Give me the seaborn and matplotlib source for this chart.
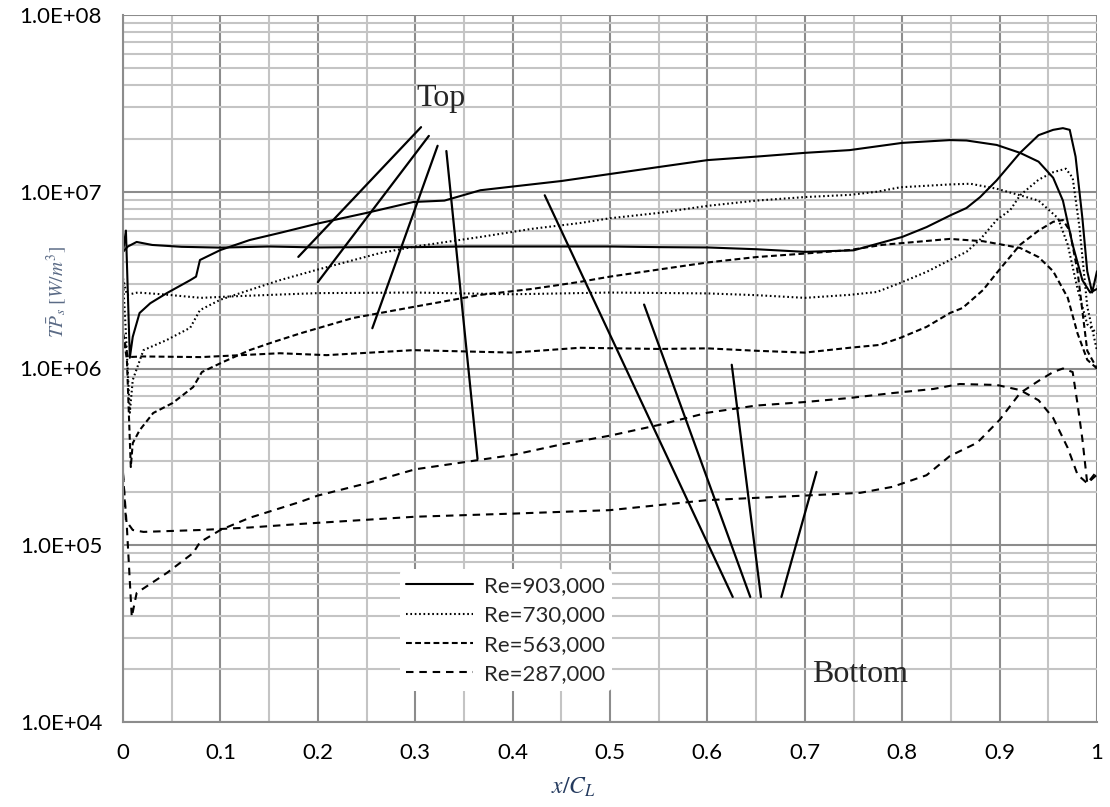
import matplotlib
matplotlib.use("Agg")
import matplotlib.pyplot as plt
import numpy as np
import pandas as pd
import seaborn as sns
from matplotlib.lines import Line2D
from matplotlib.ticker import FuncFormatter, MultipleLocator, LogLocator, NullFormatter

# ---------------- data ----------------
re_labels = ["Re=903,000", "Re=730,000", "Re=563,000", "Re=287,000"]

# Re=903,000 -- top surface (flat, trailing-edge peak)
x_903_top = [0, 0.005, 0.014, 0.03, 0.06, 0.1, 0.15, 0.2, 0.25, 0.3, 0.35, 0.4, 0.45, 0.5, 0.55, 0.6,
             0.65, 0.7, 0.75, 0.8, 0.825, 0.85, 0.866, 0.88, 0.897, 0.921, 0.94, 0.955, 0.965, 0.972,
             0.978, 0.985, 0.99, 0.995, 1.0]
v_903_top = [4.57e6, 4.9e6, 5.2e6, 5.0e6, 4.88e6, 4.83e6, 4.9e6, 4.84e6, 4.86e6, 4.86e6, 4.9e6, 4.9e6,
             4.9e6, 4.9e6, 4.86e6, 4.84e6, 4.73e6, 4.57e6, 4.66e6, 5.55e6, 6.31e6, 7.38e6, 8.09e6,
             9.33e6, 1.16e7, 1.66e7, 2.09e7, 2.24e7, 2.29e7, 2.24e7, 1.58e7, 7.08e6, 3.55e6, 2.69e6, 3.55e6]
# Re=903,000 -- bottom surface (rising)
x_903_bot = [0, 0.003, 0.007, 0.01, 0.017, 0.028, 0.045, 0.069, 0.075, 0.079, 0.1, 0.13, 0.161, 0.2,
             0.25, 0.298, 0.33, 0.367, 0.4, 0.45, 0.5, 0.55, 0.6, 0.65, 0.7, 0.746, 0.8, 0.849, 0.866,
             0.897, 0.921, 0.94, 0.955, 0.965, 0.975, 0.985, 0.993, 1.0]
v_903_bot = [4.57e6, 6.03e6, 1.15e6, 1.51e6, 2.06e6, 2.34e6, 2.67e6, 3.16e6, 3.31e6, 4.11e6, 4.68e6,
             5.33e6, 5.85e6, 6.61e6, 7.59e6, 8.75e6, 8.91e6, 1.02e7, 1.07e7, 1.15e7, 1.26e7, 1.38e7,
             1.51e7, 1.58e7, 1.66e7, 1.72e7, 1.89e7, 1.96e7, 1.95e7, 1.84e7, 1.66e7, 1.48e7, 1.2e7,
             8.91e6, 5.01e6, 3.16e6, 2.69e6, 2.82e6]

# Re=730,000
x_730_top = [0, 0.004, 0.015, 0.04, 0.08, 0.12, 0.2, 0.3, 0.4, 0.5, 0.6, 0.65, 0.7, 0.746, 0.774, 0.798,
             0.825, 0.849, 0.866, 0.88, 0.897, 0.911, 0.921, 0.94, 0.955, 0.968, 0.975, 0.982, 0.99, 1.0]
v_730_top = [3.24e6, 2.61e6, 2.69e6, 2.63e6, 2.51e6, 2.57e6, 2.67e6, 2.69e6, 2.63e6, 2.69e6, 2.66e6,
             2.6e6, 2.51e6, 2.61e6, 2.71e6, 3.05e6, 3.52e6, 4.11e6, 4.57e6, 5.37e6, 6.92e6, 7.89e6,
             9.55e6, 1.17e7, 1.29e7, 1.35e7, 1.2e7, 6.31e6, 2.24e6, 1.26e6]
x_730_bot = [0, 0.003, 0.007, 0.01, 0.021, 0.045, 0.069, 0.079, 0.1, 0.13, 0.161, 0.2, 0.264, 0.3,
             0.367, 0.42, 0.469, 0.5, 0.55, 0.6, 0.65, 0.7, 0.746, 0.774, 0.798, 0.849, 0.87, 0.897,
             0.921, 0.94, 0.96, 0.97, 0.98, 0.99, 1.0]
v_730_bot = [3.16e6, 1.58e6, 5.62e5, 8.61e5, 1.27e6, 1.45e6, 1.70e6, 2.14e6, 2.45e6, 2.78e6, 3.16e6,
             3.63e6, 4.5e6, 4.9e6, 5.55e6, 6.17e6, 6.65e6, 7.08e6, 7.59e6, 8.32e6, 8.91e6, 9.33e6,
             9.6e6, 1.0e7, 1.06e7, 1.1e7, 1.11e7, 1.04e7, 9.55e6, 8.91e6, 7.08e6, 5.01e6, 2.82e6,
             1.78e6, 1.58e6]

# Re=563,000
x_563_top = [0, 0.005, 0.02, 0.08, 0.161, 0.209, 0.298, 0.4, 0.469, 0.55, 0.6, 0.65, 0.7, 0.746, 0.777,
             0.798, 0.825, 0.849, 0.862, 0.883, 0.897, 0.921, 0.94, 0.955, 0.965, 0.972, 0.98, 0.99, 1.0]
v_563_top = [1.58e6, 1.16e6, 1.17e6, 1.16e6, 1.22e6, 1.19e6, 1.27e6, 1.23e6, 1.31e6, 1.29e6, 1.3e6,
             1.26e6, 1.23e6, 1.31e6, 1.36e6, 1.49e6, 1.72e6, 2.06e6, 2.2e6, 2.78e6, 3.47e6, 5.01e6,
             6.03e6, 6.76e6, 6.92e6, 6.03e6, 3.55e6, 1.26e6, 1.0e6]
x_563_bot = [0, 0.004, 0.008, 0.01, 0.017, 0.031, 0.051, 0.072, 0.081, 0.103, 0.13, 0.154, 0.182,
             0.236, 0.298, 0.367, 0.42, 0.469, 0.5, 0.55, 0.6, 0.65, 0.7, 0.746, 0.78, 0.849, 0.883,
             0.921, 0.94, 0.955, 0.97, 0.98, 0.99, 1.0]
v_563_bot = [1.58e6, 1.12e6, 2.77e5, 3.78e5, 4.47e5, 5.6e5, 6.38e5, 7.85e5, 9.55e5, 1.09e6, 1.27e6,
             1.41e6, 1.58e6, 1.93e6, 2.23e6, 2.61e6, 2.82e6, 3.09e6, 3.31e6, 3.63e6, 3.98e6, 4.27e6,
             4.47e6, 4.68e6, 5.01e6, 5.41e6, 5.25e6, 4.81e6, 4.27e6, 3.55e6, 2.51e6, 1.58e6, 1.12e6, 1.0e6]

# Re=287,000
x_287_top = [0, 0.003, 0.01, 0.021, 0.08, 0.13, 0.182, 0.3, 0.4, 0.5, 0.6, 0.7, 0.757, 0.79, 0.825,
             0.849, 0.877, 0.9, 0.921, 0.94, 0.955, 0.965, 0.975, 0.98, 0.985, 0.99, 1.0]
v_287_top = [2.57e5, 1.38e5, 1.22e5, 1.19e5, 1.22e5, 1.26e5, 1.32e5, 1.45e5, 1.51e5, 1.58e5, 1.8e5,
             1.91e5, 1.98e5, 2.14e5, 2.49e5, 3.2e5, 3.8e5, 5.12e5, 7.26e5, 8.51e5, 9.55e5, 1.0e6,
             9.55e5, 6.31e5, 3.98e5, 2.24e5, 2.63e5]
x_287_bot = [0, 0.004, 0.009, 0.014, 0.045, 0.072, 0.079, 0.1, 0.13, 0.182, 0.2, 0.25, 0.3, 0.35, 0.4,
             0.45, 0.5, 0.55, 0.6, 0.65, 0.7, 0.746, 0.79, 0.832, 0.859, 0.897, 0.921, 0.94, 0.955,
             0.97, 0.98, 0.99, 1.0]
v_287_bot = [2.51e5, 1.26e5, 3.93e4, 5.37e4, 6.97e4, 9.04e4, 1.04e5, 1.22e5, 1.43e5, 1.76e5, 1.91e5,
             2.24e5, 2.69e5, 2.95e5, 3.24e5, 3.72e5, 4.17e5, 4.79e5, 5.62e5, 6.17e5, 6.46e5, 6.81e5,
             7.26e5, 7.66e5, 8.17e5, 8.07e5, 7.55e5, 6.61e5, 5.25e5, 3.55e5, 2.51e5, 2.24e5, 2.51e5]

# annotation leader lines (x pairs, y pairs)
top_lines_x = [[0.180, 0.306], [0.200, 0.314], [0.256, 0.323], [0.364, 0.332]]
top_lines_y = [[4.28e6, 2.32e7], [3.08e6, 2.07e7], [1.69e6, 1.82e7], [3.08e5, 1.70e7]]
bot_lines_x = [[0.433, 0.626], [0.535, 0.644], [0.625, 0.655], [0.712, 0.676]]
bot_lines_y = [[9.55e6, 5.1e4], [2.3e6, 5.1e4], [1.05e6, 5.1e4], [2.6e5, 5.1e4]]

x_ticks = [0, 0.1, 0.2, 0.3, 0.4, 0.5, 0.6, 0.7, 0.8, 0.9, 1.0]
y_ticks = [1e4, 1e5, 1e6, 1e7, 1e8]

# ---------------- build table ----------------
series = [
    ("Re=903,000", "top", x_903_top, v_903_top), ("Re=903,000", "bottom", x_903_bot, v_903_bot),
    ("Re=730,000", "top", x_730_top, v_730_top), ("Re=730,000", "bottom", x_730_bot, v_730_bot),
    ("Re=563,000", "top", x_563_top, v_563_top), ("Re=563,000", "bottom", x_563_bot, v_563_bot),
    ("Re=287,000", "top", x_287_top, v_287_top), ("Re=287,000", "bottom", x_287_bot, v_287_bot),
]
rows = []
for re_, surf, xs, vs in series:
    for xv, vv in zip(xs, vs):
        rows.append({"Re": re_, "surface": surf, "x": xv, "v": vv})
df = pd.DataFrame(rows)

styles = {
    "Re=903,000": "-",
    "Re=730,000": (0, (0.8, 1.3)),
    "Re=563,000": (0, (2.8, 1.6)),
    "Re=287,000": (0, (3.6, 2.8)),
}

# ---------------- figure ----------------
sns.set_style("white")
plt.rcParams["font.family"] = ["Lato", "DejaVu Sans"]
plt.rcParams["mathtext.fontset"] = "stix"

fig = plt.figure(figsize=(11.10, 8.07), dpi=100)
ax = fig.add_axes([123 / 1110, 1 - 722 / 807, (1097 - 123) / 1110, (722 - 15) / 807])

for re_ in re_labels:
    sub = df[df["Re"] == re_]
    sns.lineplot(data=sub, x="x", y="v", units="surface", estimator=None, sort=False,
                 color="black", linewidth=1.5, linestyle=styles[re_], ax=ax, legend=False)

for xs, ys in zip(top_lines_x, top_lines_y):
    ax.plot(xs, ys, color="black", linewidth=1.6)
for xs, ys in zip(bot_lines_x, bot_lines_y):
    ax.plot(xs, ys, color="black", linewidth=1.6)

ax.text(0.327, 3.39e7, "Top", fontsize=23, family="Liberation Serif", ha="center", va="center")
ax.text(0.757, 1.85e4, "Bottom", fontsize=23, family="Liberation Serif", ha="center", va="center")

ax.set_yscale("log")
ax.set_xlim(0, 1)
ax.set_ylim(1e4, 1e8)
ax.set_xticks(x_ticks)
ax.xaxis.set_minor_locator(MultipleLocator(0.05))
ax.set_yticks(y_ticks)
ax.yaxis.set_minor_locator(LogLocator(base=10, subs=np.arange(2, 10)))
ax.yaxis.set_minor_formatter(NullFormatter())
ax.xaxis.set_major_formatter(FuncFormatter(lambda v, p: f"{v:g}"))
ax.yaxis.set_major_formatter(FuncFormatter(lambda v, p: f"{v:.1E}"))

ax.grid(True, which="major", color="#8c8c8c", linewidth=1.5)
ax.grid(True, which="minor", color="#c4c4c4", linewidth=1.5)
ax.set_axisbelow(True)
for s in ["top", "right"]:
    ax.spines[s].set_visible(False)
for s in ["left", "bottom"]:
    ax.spines[s].set_color("#8c8c8c")
    ax.spines[s].set_linewidth(1.5)
ax.tick_params(axis="both", which="major", direction="out", length=7, width=1.5,
               color="#8c8c8c", labelsize=16, labelcolor="black", pad=8)
ax.tick_params(axis="both", which="minor", length=0)
ax.set_xlabel("")
ax.set_ylabel("")

handles = [Line2D([0], [0], color="black", linewidth=1.5, linestyle=styles[r]) for r in re_labels]
leg = ax.legend(handles, re_labels, loc="upper left", bbox_to_anchor=(0.284, 0.216),
                fontsize=16, frameon=True, facecolor="white", edgecolor="none", framealpha=1,
                handlelength=3.0, handletextpad=0.5, labelspacing=0.42, borderpad=0.3,
                borderaxespad=0)

fig.text(573 / 1110, 1 - 787 / 807, r"$x/C_L$", fontsize=17, color="#243a5e",
         ha="center", va="center")
fig.text(57 / 1110, 1 - 292 / 807, r"$T\bar{P}_s\ [W/m^3]$", fontsize=14, color="#5a6a85",
         ha="center", va="center", rotation=90)

fig.savefig("out.png", dpi=100)
